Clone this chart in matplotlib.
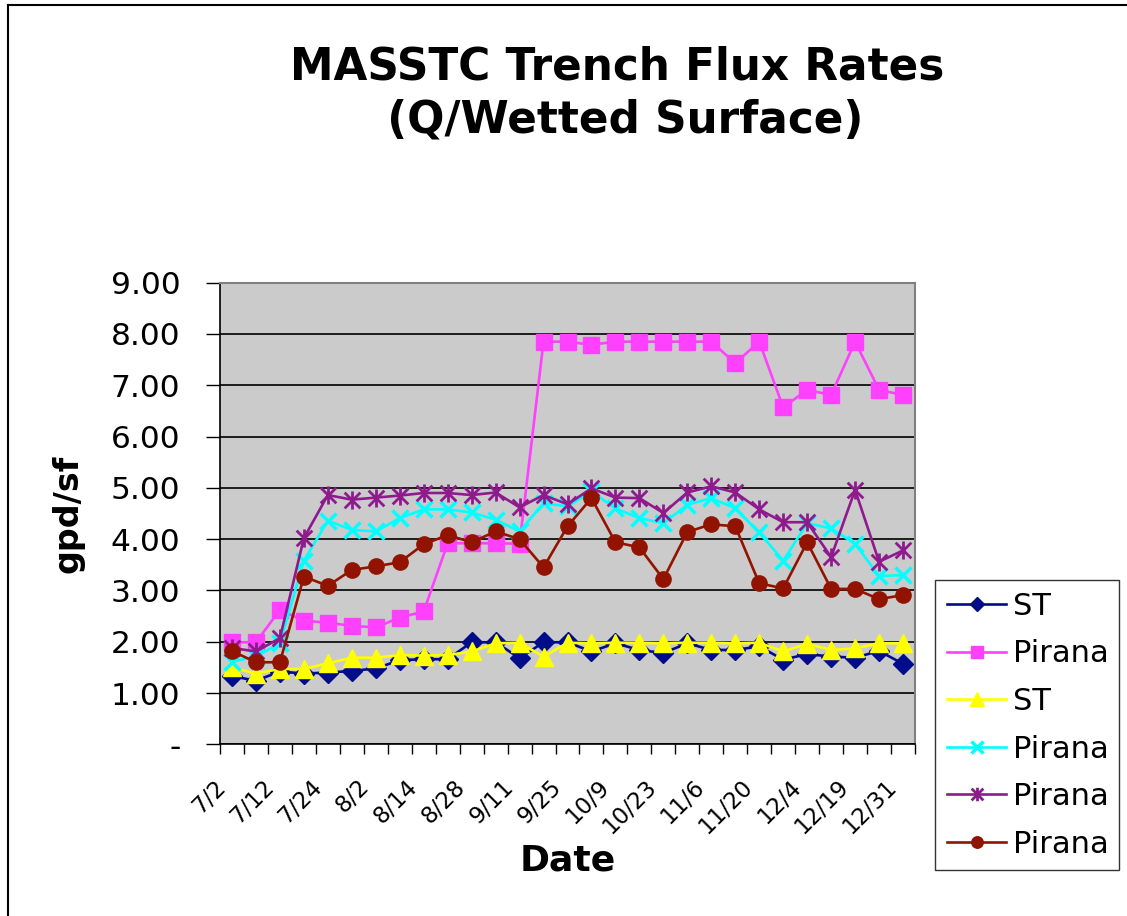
import matplotlib
matplotlib.use("Agg")
import matplotlib.pyplot as plt
from matplotlib.path import Path
from matplotlib.lines import Line2D
from matplotlib.transforms import ScaledTranslation
import numpy as np

# Tick labels (every second sample is labelled)
date_labels = ["7/2", "7/12", "7/24", "8/2", "8/14", "8/28", "9/11", "9/25",
               "10/9", "10/23", "11/6", "11/20", "12/4", "12/19", "12/31"]
n_points = 29

# Series values (gpd/sf)
st_1 = [1.33, 1.24, 1.42, 1.38, 1.40, 1.43, 1.48, 1.64, 1.66, 1.66, 1.99, 1.99,
        1.68, 1.99, 1.99, 1.81, 1.97, 1.84, 1.78, 1.97, 1.84, 1.84, 1.91, 1.65,
        1.76, 1.71, 1.69, 1.82, 1.57]
pirana_1 = [1.99, 1.99, 2.62, 2.41, 2.37, 2.31, 2.28, 2.47, 2.59, 3.92, 3.92, 3.92,
            3.91, 7.85, 7.85, 7.79, 7.85, 7.85, 7.85, 7.85, 7.85, 7.43, 7.85, 6.57,
            6.91, 6.81, 7.85, 6.91, 6.81]
st_2 = [1.50, 1.38, 1.47, 1.47, 1.58, 1.69, 1.69, 1.74, 1.73, 1.74, 1.81, 1.97,
        1.98, 1.71, 1.98, 1.97, 1.98, 1.98, 1.97, 1.98, 1.98, 1.97, 1.98, 1.81,
        1.96, 1.84, 1.87, 1.97, 1.97]
pirana_2 = [1.61, 1.71, 1.97, 3.58, 4.36, 4.18, 4.15, 4.41, 4.58, 4.58, 4.52, 4.38,
            4.15, 4.70, 4.64, 4.93, 4.60, 4.41, 4.31, 4.67, 4.80, 4.60, 4.13, 3.58,
            4.31, 4.21, 3.91, 3.28, 3.30]
pirana_3 = [1.88, 1.81, 2.07, 4.02, 4.86, 4.77, 4.81, 4.85, 4.90, 4.90, 4.86, 4.91,
            4.62, 4.86, 4.68, 4.99, 4.81, 4.80, 4.51, 4.91, 5.03, 4.91, 4.58, 4.33,
            4.33, 3.65, 4.96, 3.56, 3.78]
pirana_4 = [1.82, 1.60, 1.60, 3.27, 3.09, 3.40, 3.47, 3.55, 3.90, 4.08, 3.94, 4.15,
            4.00, 3.45, 4.25, 4.80, 3.94, 3.84, 3.22, 4.14, 4.29, 4.25, 3.14, 3.04,
            3.94, 3.03, 3.03, 2.83, 2.91]

# Excel style star: an X plus a vertical bar
star = Path([(-1, -1), (1, 1), (-1, 1), (1, -1), (0, -1.15), (0, 1.15)],
            [Path.MOVETO, Path.LINETO, Path.MOVETO, Path.LINETO, Path.MOVETO, Path.LINETO])

series = [
    ("ST", st_1, dict(color="#000C8A", marker="D", markersize=10)),
    ("Pirana", pirana_1, dict(color="#FF40FF", marker="s", markersize=11.5)),
    ("ST", st_2, dict(color="#FFFF00", marker="^", markersize=13)),
    ("Pirana", pirana_2, dict(color="#00FFFF", marker="x", markersize=11, markeredgewidth=2.5)),
    ("Pirana", pirana_3, dict(color="#8E1A8E", marker=star, markersize=13,
                              markeredgewidth=2, markerfacecolor="none")),
    ("Pirana", pirana_4, dict(color="#921400", marker="o", markersize=11)),
]

fig = plt.figure(figsize=(11.27, 9.16), dpi=100)
ax = fig.add_axes([0.1952, 0.1874, 0.6167, 0.504])
ax.set_facecolor("#CBCBCB")

x = np.arange(n_points)
for label, vals, style in series:
    ax.plot(x, vals, linewidth=1.9, label=label, zorder=3, **style)

# Axes
ax.set_xlim(-0.5, n_points - 0.5)
ax.set_ylim(0, 9)
ax.set_yticks(range(10))
ax.set_yticklabels(["-"] + ["%.2f" % v for v in range(1, 10)], fontsize=22.5)
ax.yaxis.grid(True, color="black", linewidth=1.2, zorder=1)
ax.tick_params(axis="y", direction="out", length=10, width=1, pad=18.5)

ax.set_xticks(np.arange(-0.5, n_points, 1.0))
ax.set_xticklabels([])
ax.tick_params(axis="x", which="major", direction="out", length=7, width=1)
ax.set_xticks(x[::2], minor=True)
ax.set_xticklabels(date_labels, minor=True, rotation=45, ha="right",
                   rotation_mode="anchor", fontsize=16.5)
ax.tick_params(axis="x", which="minor", length=0, pad=18)
shift = ScaledTranslation(-0.18, -0.06, fig.dpi_scale_trans)
for lbl in ax.get_xticklabels(minor=True):
    lbl.set_transform(lbl.get_transform() + shift)

for side in ["top", "right"]:
    ax.spines[side].set_color("#808080")
    ax.spines[side].set_linewidth(1.5)
for side in ["left", "bottom"]:
    ax.spines[side].set_color("black")
    ax.spines[side].set_linewidth(1.2)

ax.set_xlabel("Date", fontsize=26, fontweight="bold")
ax.xaxis.set_label_coords(0.5, -0.215)
ax.set_ylabel("gpd/sf", fontsize=24, fontweight="bold")
ax.yaxis.set_label_coords(-0.195, 0.5)

fig.text(0.548, 0.898, "MASSTC Trench Flux Rates\n (Q/Wetted Surface)",
         ha="center", va="center", fontsize=31.5, fontweight="bold", linespacing=1.3)

# Legend
leg = fig.legend(loc="upper left", bbox_to_anchor=(0.8296, 1 - 580 / 916, 0.163, 0.0),
                 mode="expand", fontsize=22, frameon=True, fancybox=False,
                 handlelength=1.96, handletextpad=0.23, labelspacing=0.61,
                 borderaxespad=0, borderpad=0.38, markerscale=0.75)
leg.get_frame().set_edgecolor("black")
leg.get_frame().set_linewidth(1.0)

# Outer chart border (left and top edges visible)
fig.add_artist(Line2D([8 / 1127, 8 / 1127], [0, 1 - 5 / 916], color="black",
                      linewidth=1.5, transform=fig.transFigure))
fig.add_artist(Line2D([8 / 1127, 1], [1 - 5 / 916, 1 - 5 / 916], color="black",
                      linewidth=1.5, transform=fig.transFigure))

plt.savefig("out.png", dpi=100)
plt.close()
